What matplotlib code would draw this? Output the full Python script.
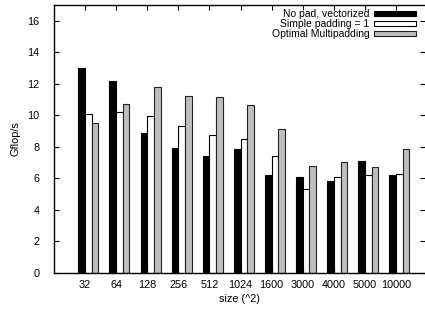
import matplotlib
matplotlib.use('Agg')
import matplotlib.pyplot as plt
import numpy as np

plt.rcParams['font.family'] = ['Liberation Sans', 'DejaVu Sans']

sizes = ['32', '64', '128', '256', '512', '1024', '1600', '3000', '4000', '5000', '10000']
no_pad = [12.98, 12.15, 8.88, 7.89, 7.38, 7.87, 6.21, 6.08, 5.81, 7.06, 6.19]
simple_pad = [10.1, 10.22, 9.92, 9.29, 8.76, 8.48, 7.42, 5.3, 6.04, 6.17, 6.25]
multipad = [9.5, 10.73, 11.8, 11.24, 11.18, 10.65, 9.14, 6.74, 7.04, 6.7, 7.85]

fig = plt.figure(figsize=(4.25, 3.09), dpi=100)
ax = fig.add_axes([0.1259, 0.1181, 0.8741, 0.8657])

x = np.arange(len(sizes))
w = 0.215
ax.bar(x - w / 2, no_pad, w, color='black', edgecolor='black', linewidth=0.8,
       label='No pad, vectorized')
ax.bar(x + w / 2, simple_pad, w, color='white', edgecolor='black', linewidth=0.8,
       label='Simple padding = 1')
ax.bar(x + 1.5 * w, multipad, w, color='#bebebe', edgecolor='#222222', linewidth=0.8,
       label='Optimal Multipadding')

ax.set_xlim(-1.013, 10.93)
ax.set_ylim(0, 17)
ax.set_xticks(x)
ax.set_xticklabels(sizes)
ax.set_yticks(range(0, 17, 2))

for s in ['left', 'top', 'bottom']:
    ax.spines[s].set_linewidth(1.0)
ax.spines['right'].set_visible(False)

ax.tick_params(axis='both', direction='in', length=3.5, width=0.8, labelsize=7.8,
               top=True, right=True)
ax.tick_params(axis='y', pad=10)
ax.tick_params(axis='x', pad=5.5)

ax.set_xlabel('size (^2)', fontsize=7.8, labelpad=3)
ax.set_ylabel('Gflop/s', fontsize=7.8, labelpad=5)

ax.legend(loc='upper right', bbox_to_anchor=(0.975, 0.985), frameon=False,
          fontsize=7.5, markerfirst=False, handlelength=4.0, handleheight=0.45,
          handletextpad=0.42, labelspacing=0.0, borderpad=0, borderaxespad=0)

fig.savefig('out.png', dpi=100)
